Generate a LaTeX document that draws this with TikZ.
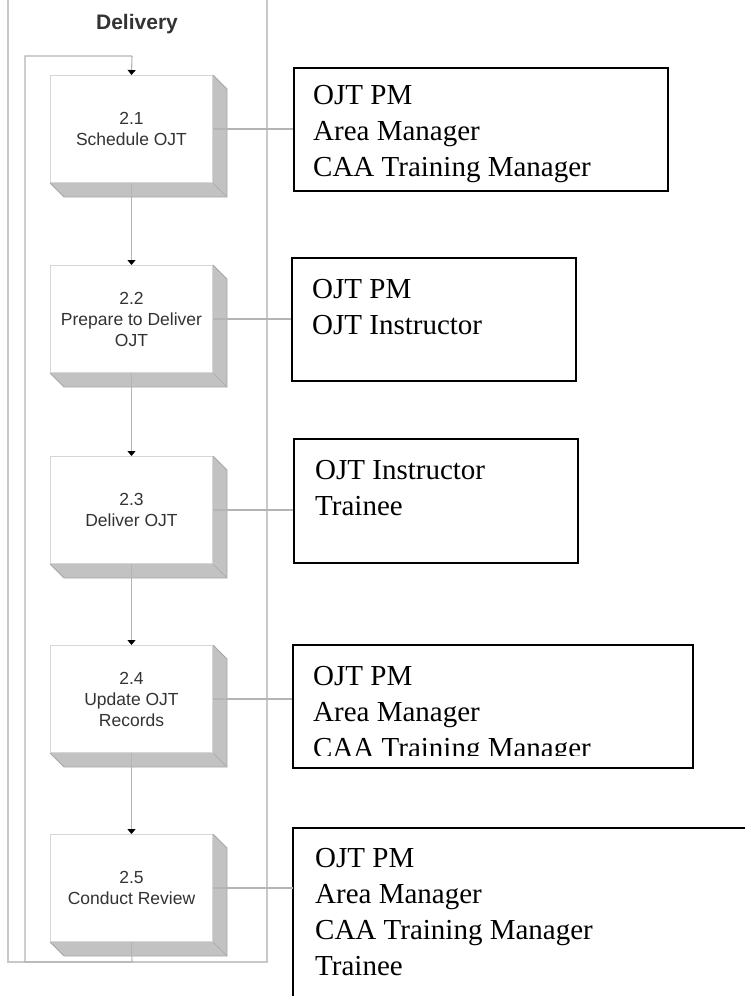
\documentclass[tikz,border=0pt]{standalone}
\usepackage{fontspec}
\setmainfont{Liberation Serif}
\setsansfont{Liberation Sans}
\usetikzlibrary{calc,arrows.meta}
\definecolor{lanegray}{HTML}{C8C8C8}
\definecolor{conngray}{HTML}{B4B4B4}
\definecolor{shadegray}{HTML}{C2C2C2}
\definecolor{edgegray}{HTML}{A8A8A8}
\definecolor{facegray}{HTML}{D6D6D6}
\definecolor{txtgray}{HTML}{333333}
\tikzset{
  lane/.style={draw=lanegray, line width=1.4pt},
  conn/.style={draw=conngray, line width=1.1pt},
  flow/.style={conn, -{Triangle[width=8pt,length=5pt,color=black]}},
  procbox/.style={draw=facegray, line width=1pt, fill=white, minimum width=162pt, minimum height=107pt,
     inner sep=0pt, align=center, text=txtgray, font=\sffamily\fontsize{17.5}{21}\selectfont},
  callbox/.style={draw=black, line width=1.6pt, inner sep=0pt, anchor=north west},
  calltext/.style={anchor=base west, inner sep=0pt, font=\rmfamily\fontsize{29}{36}\selectfont},
}
\newcommand{\shadowbox}[1]{%
  \fill[shadegray] (#1.north east) -- ++(14pt,-14pt) -- ($(#1.south east)+(14pt,-14pt)$) -- ($(#1.south west)+(14pt,-14pt)$) -- (#1.south west) -- (#1.south east) -- cycle;
  \draw[edgegray, line width=0.8pt] (#1.north east) -- ++(14pt,-14pt) -- ($(#1.south east)+(14pt,-14pt)$) -- ($(#1.south west)+(14pt,-14pt)$) -- (#1.south west);
  \draw[edgegray, line width=0.6pt] (#1.south east) -- ++(14pt,-14pt);
}
\begin{document}
\begin{tikzpicture}[x=1pt,y=-1pt]
\useasboundingbox[fill=white] (0,0) rectangle (745,996);
% lane
\draw[lane] (8,0) -- (8,962) -- (267,962) -- (267,0);
\node[font=\sffamily\bfseries\fontsize{21}{24}\selectfont, text=txtgray, anchor=base] (title) at (137,29) {Delivery};

% process boxes
\node[procbox, anchor=north west] (p1) at (50,75) {2.1\\Schedule OJT};
\node[procbox, anchor=north west] (p2) at (50,265) {2.2\\Prepare to Deliver\\OJT};
\node[procbox, anchor=north west] (p3) at (50,456) {2.3\\Deliver OJT};
\node[procbox, anchor=north west] (p4) at (50,645) {2.4\\Update OJT\\Records};
\node[procbox, anchor=north west] (p5) at (50,834) {2.5\\Conduct Review};
\shadowbox{p1}\shadowbox{p2}\shadowbox{p3}\shadowbox{p4}\shadowbox{p5}

% loop
\coordinate (la) at (132,962);
\coordinate (lb) at (25,962);
\coordinate (lc) at (25,56);
\coordinate (ld) at (132,56);
\draw[conn] (p5.south) -- (la) -- (lb) -- (lc) -- (ld);
\draw[flow] (ld) -- (p1.north);
\draw[flow] (p1.south) -- (p2.north);
\draw[flow] (p2.south) -- (p3.north);
\draw[flow] (p3.south) -- (p4.north);
\draw[flow] (p4.south) -- (p5.north);

% callout boxes
\node[callbox, minimum width=374pt, minimum height=123pt] (c1) at (293,67) {};
\node[callbox, minimum width=284pt, minimum height=123pt] (c2) at (291,257) {};
\node[callbox, minimum width=284pt, minimum height=124pt] (c3) at (293,438) {};
\node[callbox, minimum width=400pt, minimum height=123pt] (c4) at (292,644) {};
\coordinate (c5) at (293,828);
\draw[black, line width=1.6pt] (745,828) -- (c5) -- (293,996);

% connectors to callouts
\draw[conn] (p1.east) -- (p1.east -| c1.west);
\draw[conn] (p2.east) -- (p2.east -| c2.west);
\draw[conn] (p3.east) -- (p3.east -| c3.west);
\draw[conn] (p4.east) -- (p4.east -| c4.west);
\draw[conn] (p5.east) -- (p5.east -| c5);

% callout texts
\node[calltext] (t1) at (313,104) {\begin{tabular}[t]{@{}l@{}}OJT PM\\Area Manager\\CAA Training Manager\end{tabular}};
\node[calltext] (t2) at (312,298) {\begin{tabular}[t]{@{}l@{}}OJT PM\\OJT Instructor\end{tabular}};
\node[calltext] (t3) at (315,479) {\begin{tabular}[t]{@{}l@{}}OJT Instructor\\Trainee\end{tabular}};
\begin{scope}
\clip (292,644) rectangle (692,755);
\node[calltext] (t4) at (313,685) {\begin{tabular}[t]{@{}l@{}}OJT PM\\Area Manager\\CAA Training Manager\end{tabular}};
\end{scope}
\node[calltext] (t5) at (315,867) {\begin{tabular}[t]{@{}l@{}}OJT PM\\Area Manager\\CAA Training Manager\\Trainee\end{tabular}};
\end{tikzpicture}
\end{document}
